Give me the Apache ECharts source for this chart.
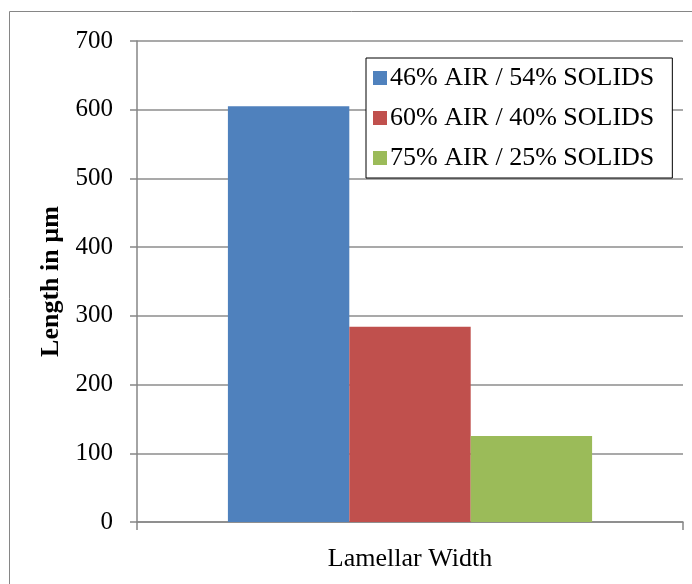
<!DOCTYPE html>
<html>
<head>
<meta charset="utf-8">
<script src="https://cdn.jsdelivr.net/npm/echarts@6/dist/echarts.min.js"></script>
<style>
html,body{margin:0;padding:0;background:#fff;}
#container1{width:692px;height:584px;}
</style>
</head>
<body>
<div id="container1"></div>
<script>
// 数据
var categories=['Lamellar Width'];
var seriesNames=['46% AIR / 54% SOLIDS','60% AIR / 40% SOLIDS','75% AIR / 25% SOLIDS'];
var values46=[605];
var values60=[284];
var values75=[125];
var colorList=['#4F81BD','#C0504D','#9BBB59'];
var yTicks={min:0,max:700,interval:100};

var font='"Liberation Serif","Times New Roman",serif';
var myChart=echarts.init(document.getElementById('container1'));
var option={
	textStyle:{fontFamily:font,color:'#000'},
	animation:false,
	graphic:[{
		type:'rect',
		shape:{x:9.5,y:11.5,width:700,height:600},
		style:{fill:'none',stroke:'#868686',lineWidth:1},
		silent:true
	}],
	grid:{left:137,right:9,top:41,bottom:62},
	legend:{
		orient:'vertical',
		left:366,
		top:58,
		padding:[6,18,6,7],
		itemWidth:14,
		itemHeight:14,
		itemGap:12,
		borderColor:'#000',
		borderWidth:1,
		backgroundColor:'#fff',
		icon:'rect',
		textStyle:{fontFamily:font,fontSize:26,color:'#000',lineHeight:28,padding:[0,0,0,-2]},
		data:seriesNames
	},
	xAxis:{
		type:'category',
		data:categories,
		axisLine:{lineStyle:{color:'#868686',width:1.5}},
		axisTick:{show:true,length:8,lineStyle:{color:'#868686',width:1.5}},
		axisLabel:{fontFamily:font,fontSize:26,color:'#000',margin:24}
	},
	yAxis:{
		type:'value',
		min:yTicks.min,
		max:yTicks.max,
		interval:yTicks.interval,
		name:'Length in µm',
		nameLocation:'middle',
		nameGap:72,
		nameTextStyle:{fontFamily:font,fontSize:26,fontWeight:'bold',color:'#000'},
		axisLine:{show:true,lineStyle:{color:'#868686',width:1.5}},
		axisTick:{show:true,length:7,lineStyle:{color:'#868686',width:1.5}},
		axisLabel:{fontFamily:font,fontSize:25,color:'#000',margin:24},
		splitLine:{lineStyle:{color:'#8c8c8c',width:1.5}}
	},
	series:[
		{name:seriesNames[0],type:'bar',data:values46,barGap:'0%',barCategoryGap:'33.3%',itemStyle:{color:colorList[0]}},
		{name:seriesNames[1],type:'bar',data:values60,barGap:'0%',barCategoryGap:'33.3%',itemStyle:{color:colorList[1]}},
		{name:seriesNames[2],type:'bar',data:values75,barGap:'0%',barCategoryGap:'33.3%',itemStyle:{color:colorList[2]}}
	]
};
myChart.setOption(option);
</script>
</body>
</html>
